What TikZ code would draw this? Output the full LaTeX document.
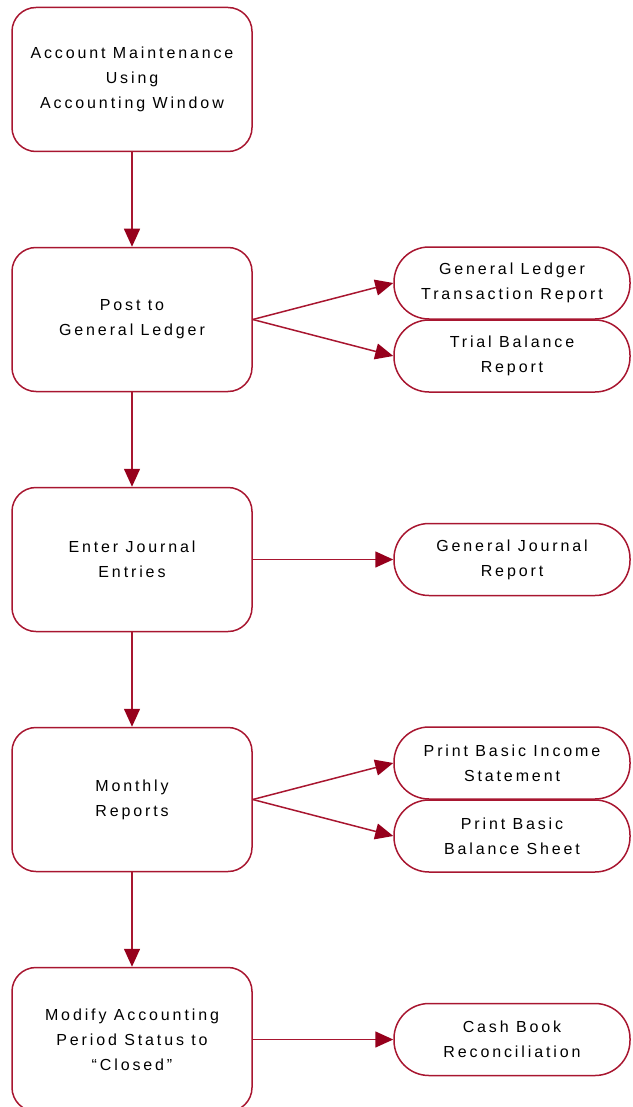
\documentclass[tikz,border=0pt]{standalone}
\usepackage{fontspec}
\setmainfont{Liberation Sans}[LetterSpace=18]
\usetikzlibrary{arrows.meta}
\definecolor{flowred}{RGB}{168,22,48}
\definecolor{tipred}{RGB}{150,0,28}

\begin{document}
\begin{tikzpicture}[x=1pt, y=-1pt, node distance=240pt,
    task/.style={rectangle, rounded corners=24pt, minimum width=240pt, minimum height=144pt,
                 align=center, draw=flowred, line width=1.5pt, font=\fontsize{16}{25}\selectfont},
    report/.style={rectangle, rounded corners=35pt, minimum width=236pt, minimum height=72pt,
                   align=center, draw=flowred, line width=1.5pt, font=\fontsize{16}{25}\selectfont},
    arrow/.style={-{Triangle[length=18pt, width=16pt, color=tipred]}, draw=flowred, line width=1.5pt}]
    \useasboundingbox (0,0) rectangle (632,1107);

    % Main steps
    \node[task] (maint) at (132,79.5) {Account Maintenance\\Using\\Accounting Window};
    \node[task, below of=maint] (post) {Post to\\General Ledger};
    \node[task, below of=post] (journal) {Enter Journal\\Entries};
    \node[task, below of=journal] (monthly) {Monthly\\Reports};
    \node[task, below of=monthly] (closing) {Modify Accounting\\Period Status to\\“Closed”};

    % Reports
    \node[report, right of=post, node distance=380pt, yshift=36.5pt] (gltrans) {General Ledger\\Transaction Report};
    \node[report, right of=post, node distance=380pt, yshift=-36.5pt] (trial) {Trial Balance\\Report};
    \node[report, right of=journal, node distance=380pt] (gjreport) {General Journal\\Report};
    \node[report, right of=monthly, node distance=380pt, yshift=36.5pt] (income) {Print Basic Income\\Statement};
    \node[report, right of=monthly, node distance=380pt, yshift=-36.5pt] (balance) {Print Basic\\Balance Sheet};
    \node[report, right of=closing, node distance=380pt] (cashbook) {Cash Book\\Reconciliation};

    % Arrows
    \draw[arrow] (maint) -- (post);
    \draw[arrow] (post) -- (journal);
    \draw[arrow] (journal) -- (monthly);
    \draw[arrow] (monthly) -- (closing);
    \draw[arrow] (post.east) -- (gltrans.west);
    \draw[arrow] (post.east) -- (trial.west);
    \draw[arrow] (journal) -- (gjreport);
    \draw[arrow] (monthly.east) -- (income.west);
    \draw[arrow] (monthly.east) -- (balance.west);
    \draw[arrow] (closing) -- (cashbook);

\end{tikzpicture}
\end{document}
